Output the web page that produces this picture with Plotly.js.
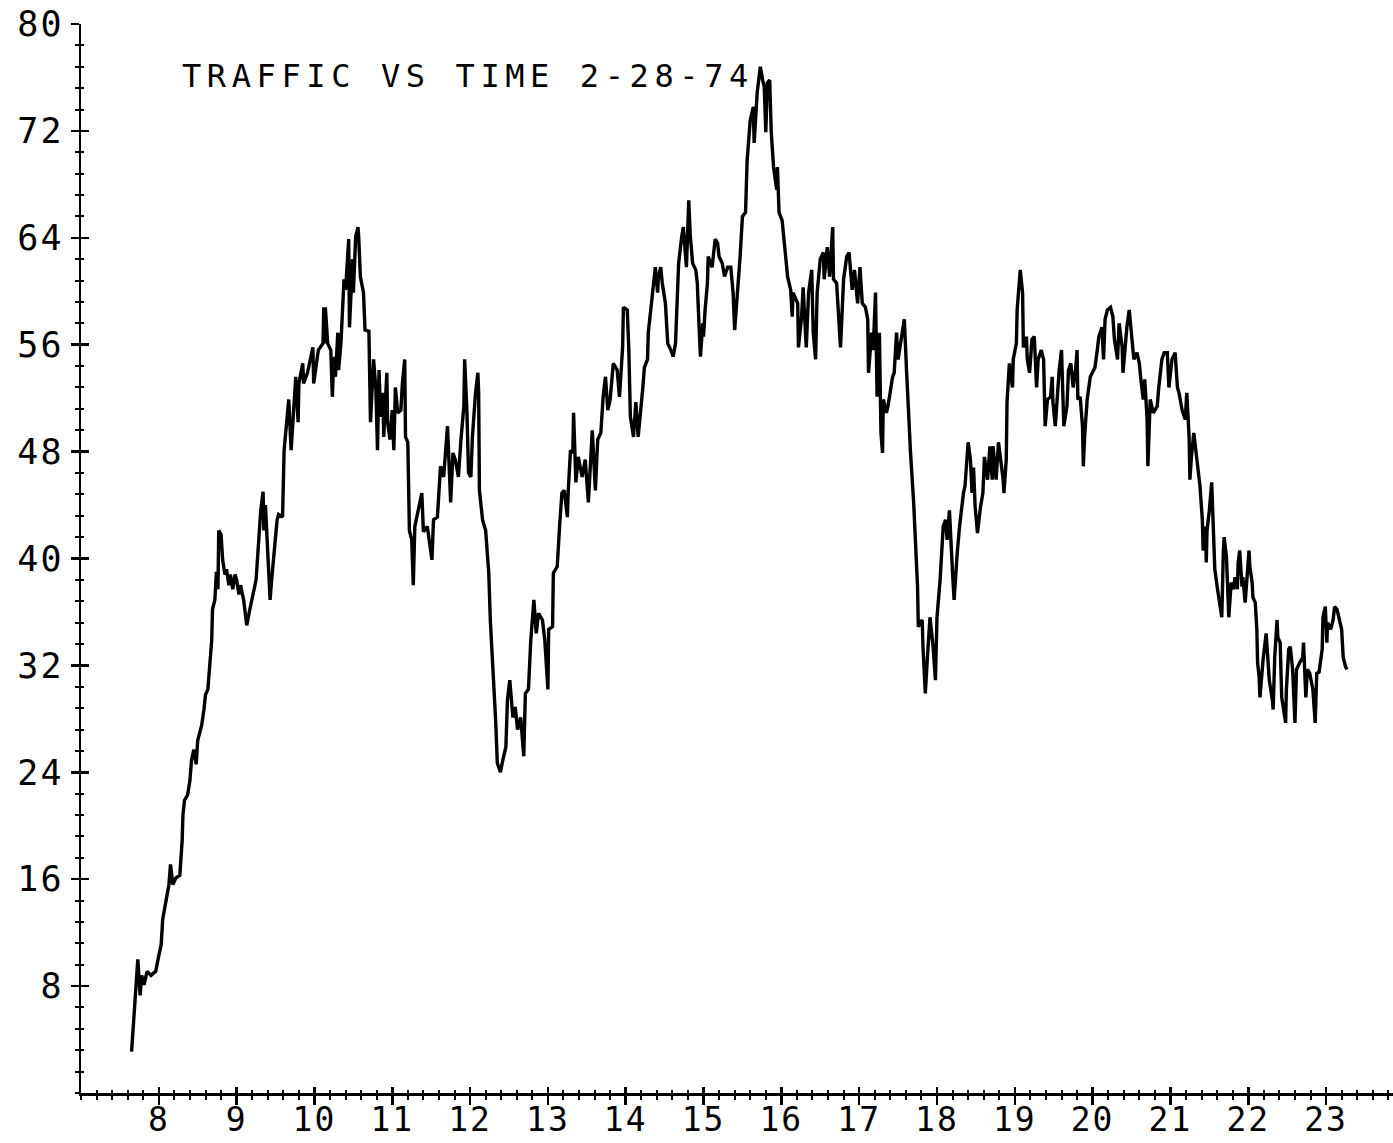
<!DOCTYPE html>
<html>
<head>
<meta charset="utf-8">
<script src="https://cdn.plot.ly/plotly-3.0.1.min.js"></script>
<style>
  html, body { margin: 0; padding: 0; background: #fff; }
  #chart { width: 1393px; height: 1143px; }
  .gtitle { letter-spacing: 5.6px; }
  .xtick text, .ytick text { letter-spacing: 2px; }
</style>
</head>
<body>
<div id="chart"></div>
<script>
// ---- data ----
const chartTitle = "TRAFFIC VS TIME 2-28-74";

// time of day (hours)
const timeHours = [
7.65,7.68,7.70,7.73,7.76,7.78,7.81,7.85,7.90,7.96,7.99,
8.03,8.05,8.08,8.10,8.13,8.15,8.18,8.22,8.27,8.30,8.31,8.33,8.37,8.40,8.42,8.45,8.48,8.50,8.53,8.55,8.58,8.60,8.63,8.65,8.68,8.69,8.72,8.74,8.76,8.77,8.80,8.82,8.85,8.87,8.90,8.92,8.95,8.98,
9.00,9.03,9.05,9.09,9.13,9.17,9.21,9.25,9.28,9.31,9.34,9.35,9.37,9.40,9.43,9.45,9.48,9.52,9.54,9.59,
9.61,9.66,9.67,9.70,9.72,9.76,9.79,9.80,9.85,9.86,9.91,9.98,9.99,
10.02,10.05,10.11,10.12,10.13,10.14,10.17,10.21,10.23,10.25,10.27,10.30,10.31,10.34,10.38,10.40,10.44,10.45,10.49,10.50,10.53,10.56,10.57,10.59,10.63,10.65,10.70,10.71,10.72,10.76,10.79,10.81,10.83,10.85,10.88,10.89,10.93,10.94,10.97,
11.00,11.02,11.04,11.07,11.11,11.13,11.16,11.17,11.20,11.21,11.22,11.25,11.27,
11.29,11.34,11.38,11.40,11.45,11.51,11.53,11.58,11.62,11.66,11.71,11.75,11.78,11.81,11.85,11.88,11.92,11.93,11.96,11.98,
12.01,12.03,12.07,12.10,12.11,12.12,12.16,12.20,12.24,12.26,12.30,12.33,12.35,12.39,12.42,12.46,12.48,12.51,12.55,12.58,12.61,12.65,12.69,12.71,12.75,12.78,12.82,12.85,12.88,12.93,12.96,
13.00,13.01,13.06,13.07,13.12,13.15,13.18,13.21,13.25,13.26,13.29,13.32,13.33,13.36,13.39,13.44,13.48,13.52,13.57,13.61,13.64,13.68,13.71,13.74,13.77,13.80,13.84,13.89,13.92,13.96,13.97,
14.02,14.04,14.06,14.10,14.13,14.16,14.22,14.24,14.28,14.29,14.34,14.38,14.41,14.42,14.45,14.47,14.51,14.54,14.58,14.61,14.64,14.66,14.68,14.72,14.74,14.78,14.81,14.83,14.86,14.90,14.92,14.93,14.96,14.99,
15.00,15.02,15.05,15.06,15.11,15.15,15.18,15.20,15.24,15.27,15.31,15.35,15.38,15.40,15.44,15.47,15.50,15.54,15.56,15.60,15.64,15.65,15.69,15.73,15.76,15.78,15.80,15.82,15.85,15.87,15.90,15.94,15.95,15.97,
16.01,16.05,16.08,16.12,16.14,16.15,16.21,16.22,16.26,16.28,16.32,16.35,16.39,16.41,16.44,16.46,16.50,16.54,16.55,16.59,16.62,16.66,16.67,16.71,16.73,16.76,16.80,16.84,16.87,16.91,16.94,16.98,
17.01,17.04,17.08,17.11,17.12,17.16,17.18,17.21,17.23,17.26,17.28,17.30,17.31,17.35,17.37,17.43,17.45,17.48,17.50,17.55,17.58,17.61,17.63,17.66,17.70,17.72,17.75,17.76,17.81,17.82,17.85,17.88,17.91,17.95,17.98,
18.00,18.04,18.08,18.11,18.13,18.16,18.20,18.22,18.26,18.29,18.34,18.36,18.40,18.43,18.45,18.47,18.49,18.52,18.56,18.59,18.61,18.65,18.68,18.71,18.72,18.76,18.79,18.83,18.85,18.86,18.89,18.90,18.93,18.97,18.98,
19.02,19.03,19.07,19.10,19.11,19.15,19.16,19.19,19.22,19.25,19.28,19.30,19.34,19.37,19.39,19.42,19.46,19.48,19.49,19.52,19.55,19.57,19.60,19.62,19.63,19.67,19.69,19.72,19.75,19.78,19.80,19.81,19.84,19.87,19.88,19.90,19.93,19.97,
20.01,20.03,20.06,20.08,20.12,20.14,20.16,20.19,20.23,20.26,20.28,20.32,20.34,20.38,20.39,20.42,20.44,20.47,20.51,20.53,20.57,20.60,20.62,20.65,20.67,20.70,20.71,20.74,20.78,20.83,20.85,20.89,20.92,20.96,20.98,
21.02,21.06,21.09,21.11,21.15,21.19,21.21,21.24,21.25,21.27,21.30,21.32,21.35,21.38,21.41,21.42,21.45,21.46,21.47,21.50,21.53,21.55,21.57,21.60,21.63,21.66,21.68,21.69,21.72,21.73,21.75,21.78,21.81,21.83,21.86,21.87,21.89,21.92,21.93,21.96,21.98,
22.01,22.02,22.05,22.06,22.09,22.11,22.12,22.14,22.15,22.18,22.19,22.23,22.24,22.27,22.31,22.32,22.34,22.37,22.38,22.41,22.43,22.45,22.48,22.49,22.52,22.54,22.57,22.60,22.62,22.66,22.70,22.71,22.74,22.76,22.79,22.83,22.86,22.88,22.91,22.95,22.96,22.99,
23.01,23.02,23.06,23.09,23.11,23.14,23.18,23.20,23.22,23.25,23.27
];

// traffic count
const trafficCount = [
3.1,5.5,7.0,10.0,7.3,8.8,8.1,9.1,8.8,9.1,10.0,
11.1,13.0,14.1,14.8,15.6,17.1,15.6,16.1,16.3,18.9,20.8,21.9,22.3,23.4,24.9,25.7,24.6,26.4,27.2,27.5,28.7,29.8,30.2,32.0,33.9,36.2,36.9,39.0,37.7,42.1,41.8,39.9,38.8,39.2,38.0,38.8,37.7,38.8,
38.4,37.3,38.0,36.9,35.0,36.2,37.3,38.4,41.0,43.6,45.0,42.1,44.0,41.0,36.9,38.4,40.3,42.9,43.3,43.1,
48.1,51.7,51.9,48.1,50.2,53.6,50.2,53.1,54.6,53.1,53.9,55.8,53.1,
54.3,55.6,56.1,58.8,56.1,58.8,56.1,55.6,52.1,55.1,53.6,56.9,54.1,56.1,60.9,60.1,63.9,57.3,62.4,59.9,64.1,64.8,63.9,61.1,59.9,57.1,57.0,53.9,50.2,54.9,52.6,48.1,54.1,50.6,52.4,49.1,53.9,50.2,48.9,
51.1,48.1,52.8,50.9,51.1,53.1,54.9,49.1,48.7,45.7,42.1,41.4,38.0,
42.4,43.9,44.9,42.0,42.4,39.9,42.9,43.1,46.9,46.1,49.9,44.2,47.9,47.4,46.1,48.7,51.4,54.9,50.9,46.4,
46.1,49.1,52.4,53.9,52.4,45.1,42.9,42.1,38.9,35.4,31.4,27.7,24.7,24.0,24.9,25.9,29.4,30.9,28.1,28.9,27.2,28.1,25.2,29.9,30.2,33.9,36.9,34.4,35.9,35.4,33.9,
30.2,34.7,34.9,38.9,39.4,42.4,44.9,45.1,43.1,44.9,48.1,47.9,50.9,45.7,47.6,46.1,47.4,44.2,49.6,45.1,48.9,49.4,52.1,53.6,51.1,51.9,54.6,54.1,52.1,55.8,58.8,
58.6,55.6,50.6,49.1,51.7,49.1,52.8,54.3,54.9,56.9,59.6,61.8,59.9,61.1,61.8,60.6,59.1,56.1,55.6,55.1,56.1,59.1,62.1,64.1,64.8,61.8,66.8,64.1,62.1,61.6,60.6,59.1,55.1,57.6,
56.6,58.6,60.6,62.6,61.8,63.9,63.6,62.6,62.1,61.1,61.8,61.8,59.9,57.1,59.9,62.6,65.6,65.9,69.8,72.8,73.8,71.1,74.9,76.8,75.8,75.3,71.9,75.6,75.8,71.9,69.3,67.6,69.3,65.9,
65.3,63.1,61.1,60.1,58.1,59.9,59.1,55.8,58.1,60.3,55.8,59.9,61.6,56.9,54.9,59.9,62.4,62.9,60.9,63.3,61.1,64.8,60.9,60.6,58.4,55.8,60.9,62.6,62.9,60.1,61.6,59.1,
61.8,59.1,58.8,57.9,53.9,56.9,55.6,59.9,52.1,56.9,49.4,47.9,51.9,50.9,51.4,53.6,53.9,56.9,54.9,56.6,57.9,53.9,50.9,47.9,44.2,41.6,37.9,34.9,35.4,33.4,29.9,32.9,35.6,33.4,30.9,
35.6,38.4,42.4,42.9,41.4,43.6,38.9,36.9,40.4,42.4,44.9,45.4,48.7,47.4,44.9,46.8,43.9,41.9,43.9,44.9,47.6,45.9,48.4,45.9,48.4,45.9,48.7,46.9,45.9,44.9,47.4,51.7,54.6,52.8,54.9,
56.1,58.6,61.6,59.9,55.8,56.6,54.9,53.9,56.4,56.6,52.8,54.9,55.6,54.9,49.9,51.9,52.1,53.6,51.7,49.9,52.4,54.1,55.6,52.4,49.9,51.4,54.1,54.6,52.8,54.1,55.6,51.9,52.1,49.9,46.9,49.4,51.9,53.6,
54.1,54.3,55.6,56.6,57.3,54.9,57.9,58.6,58.8,58.1,56.4,54.9,57.6,55.8,53.9,56.4,57.3,58.6,55.8,54.9,55.4,54.6,53.4,51.9,53.4,50.4,46.9,51.9,50.9,51.4,52.8,54.9,55.4,55.4,52.8,
54.9,55.4,52.8,52.4,51.1,50.4,52.4,49.1,45.9,47.6,49.4,48.4,46.6,45.4,42.9,40.6,42.4,39.7,42.1,43.6,45.7,42.9,39.2,37.9,36.9,35.6,40.6,41.6,40.1,38.6,35.6,38.2,37.7,38.6,37.7,39.7,40.6,37.9,38.6,36.7,38.2,
40.6,39.4,38.2,37.1,36.7,34.7,32.2,31.1,29.6,31.7,32.4,34.4,33.2,30.9,29.4,28.7,32.6,35.4,34.1,33.7,29.6,28.7,27.7,30.2,33.2,33.4,31.7,27.7,31.7,32.2,32.6,33.7,29.6,31.7,31.4,30.2,27.7,31.4,31.5,33.2,35.6,36.4,
33.7,35.2,34.7,35.4,36.4,36.2,35.2,34.7,32.6,31.9,31.7
];

// axes
const xRange = [7, 23.86];
const yRange = [0, 80];
const xTickValues = [8,9,10,11,12,13,14,15,16,17,18,19,20,21,22,23];
const yTickValues = [8,16,24,32,40,48,56,64,72,80];
const xMinorStep = 0.2;
const yMinorStep = 1.6;

const ink = '#000';
const mono = 'DejaVu Sans Mono, monospace';

const traces = [
  { x: timeHours, y: trafficCount, type: 'scatter', mode: 'lines',
    line: { color: ink, width: 3.4 }, hoverinfo: 'skip', xaxis: 'x', yaxis: 'y' },
  { x: timeHours, y: trafficCount, type: 'scatter', mode: 'none',
    hoverinfo: 'skip', xaxis: 'x2', yaxis: 'y' },
  { x: timeHours, y: trafficCount, type: 'scatter', mode: 'none',
    hoverinfo: 'skip', xaxis: 'x', yaxis: 'y2' }
];

const baseX = {
  range: xRange, showgrid: false, zeroline: false, fixedrange: true,
  tickmode: 'array', tickvals: xTickValues,
  tickcolor: ink, tickwidth: 2.5
};
const baseY = {
  range: yRange, showgrid: false, zeroline: false, fixedrange: true,
  tickmode: 'array', tickvals: yTickValues,
  tickcolor: ink, tickwidth: 2.5
};

const layout = {
  width: 1393, height: 1143,
  margin: { l: 81, r: 0, t: 24, b: 50, pad: 0 },
  paper_bgcolor: '#fff', plot_bgcolor: '#fff',
  showlegend: false,
  font: { family: mono, size: 34, color: ink },
  title: {
    text: chartTitle, xref: 'container', yref: 'container',
    x: 182 / 1393, xanchor: 'left', y: 1 - 76 / 1143, yanchor: 'middle',
    font: { family: mono, size: 32, color: ink }
  },
  xaxis: Object.assign({}, baseX, {
    ticktext: xTickValues.map(String),
    ticks: 'outside', ticklen: 9, showline: true, linecolor: ink, linewidth: 2.5,
    tickfont: { family: mono, size: 33, color: ink },
    ticklabelstandoff: -13,
    minor: { tickmode: 'linear', tick0: 7, dtick: xMinorStep, ticks: 'outside',
             ticklen: 4, tickwidth: 2, tickcolor: ink, showgrid: false }
  }),
  xaxis2: Object.assign({}, baseX, {
    overlaying: 'x', anchor: 'y', side: 'bottom',
    ticks: 'inside', ticklen: 6, showline: false, showticklabels: false,
    minor: { tickmode: 'linear', tick0: 7, dtick: xMinorStep, ticks: 'inside',
             ticklen: 3, tickwidth: 2, tickcolor: ink, showgrid: false }
  }),
  yaxis: Object.assign({}, baseY, {
    ticktext: yTickValues.map(String),
    ticks: 'outside', ticklen: 8, showline: true, linecolor: ink, linewidth: 2.5,
    tickfont: { family: mono, size: 35, color: ink },
    ticklabelstandoff: 0,
    minor: { tickmode: 'linear', tick0: 0, dtick: yMinorStep, ticks: 'outside',
             ticklen: 4, tickwidth: 2, tickcolor: ink, showgrid: false }
  }),
  yaxis2: Object.assign({}, baseY, {
    overlaying: 'y', anchor: 'x', side: 'left',
    ticks: 'inside', ticklen: 8, showline: false, showticklabels: false,
    minor: { tickmode: 'linear', tick0: 0, dtick: yMinorStep, ticks: 'inside',
             ticklen: 3, tickwidth: 2, tickcolor: ink, showgrid: false }
  })
};

Plotly.newPlot('chart', traces, layout, { staticPlot: true, displayModeBar: false });
</script>
</body>
</html>
